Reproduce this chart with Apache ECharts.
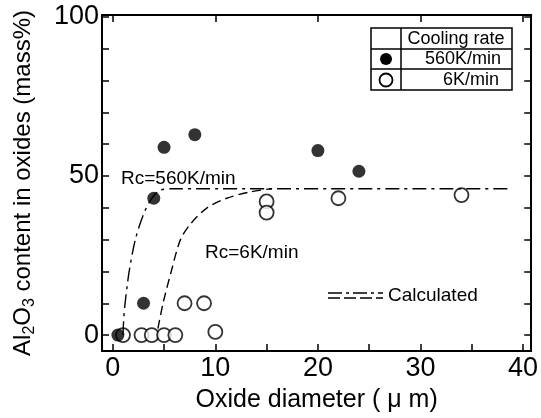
<!DOCTYPE html>
<html>
<head>
<meta charset="utf-8">
<script src="https://cdn.jsdelivr.net/npm/echarts@6/dist/echarts.min.js"></script>
<style>
html,body{margin:0;padding:0;background:#fff;}
#main{width:541px;height:418px;}
</style>
</head>
<body>
<div id="main"></div>
<script>
// measured points, oxide diameter (um) vs Al2O3 (mass%)
var fastX = [0.5, 3, 4, 5, 8, 20, 24];
var fastY = [0, 10, 43, 59, 63, 58, 51.5];
var slowX = [1, 2.8, 3.8, 5, 6.1, 10, 7, 8.9, 15, 15, 22, 34];
var slowY = [0, 0, 0, 0, 0, 1, 10, 10, 42, 38.5, 43, 44];

// calculated curves
var calcFastX = [1.0, 1.05, 1.2, 1.6, 2.2, 3.0, 3.8, 4.6, 5.8, 38.5];
var calcFastY = [0, 4, 10, 20, 30, 38, 43, 45.5, 46, 46];
var calcSlowX = [4.4, 4.9, 5.7, 6.6, 7.6, 9.2, 11.1, 13.4, 15.5];
var calcSlowY = [2, 10, 20, 30, 35, 40, 43, 45, 46];

var xTickLabels = [0, 10, 20, 30, 40];
var xTicks = [0, 5, 10, 15, 20, 25, 30, 35, 40];
var yTickLabels = [0, 50, 100];
var yTicks = [0, 10, 20, 30, 40, 50, 60, 70, 80, 90, 100];

var pairs = function (xs, ys) {
    var out = [];
    for (var i = 0; i < xs.length; i++) out.push([xs[i], ys[i]]);
    return out;
};

var font = 'Liberation Sans';
var myChart = echarts.init(document.getElementById('main'));

var axisX = function (pos, show) {
    return {
        type: 'value', position: pos, min: -1.05, max: 40.8,
        axisLine: {show: true, onZero: false, lineStyle: {color: '#000', width: 2}},
        axisTick: {show: true, inside: true, length: 7, lineStyle: {color: '#000', width: 1.5},
            customValues: show ? xTicks : xTickLabels},
        axisLabel: {show: show, customValues: xTickLabels, color: '#000', fontSize: 27,
            fontFamily: font, margin: 4},
        splitLine: {show: false}
    };
};
var axisY = function (pos, show) {
    return {
        type: 'value', position: pos, min: -5, max: 100.6,
        axisLine: {show: true, onZero: false, lineStyle: {color: '#000', width: 2}},
        axisTick: {show: true, inside: true, length: 7, lineStyle: {color: '#000', width: 1.5},
            customValues: yTicks},
        axisLabel: {show: show, customValues: yTickLabels, color: '#000', fontSize: 27,
            fontFamily: font, margin: 3},
        splitLine: {show: false}
    };
};

var xb = axisX('bottom', true);
xb.name = 'Oxide diameter ( \u03bc m)';
xb.nameLocation = 'middle';
xb.nameGap = 37;
xb.nameTextStyle = {color: '#000', fontSize: 25, fontFamily: font};

var yl = axisY('left', true);
yl.name = '{n|Al}{s|2}{n|O}{s|3}{n| content in oxides (mass%)}';
yl.nameLocation = 'middle';
yl.nameGap = 64;
yl.nameTextStyle = {
    color: '#000', fontFamily: font,
    rich: {
        n: {fontSize: 24, fontFamily: font, color: '#000', lineHeight: 30, verticalAlign: 'middle'},
        s: {fontSize: 16, fontFamily: font, color: '#000', lineHeight: 30, padding: [14, 0, 0, 0], verticalAlign: 'middle'}
    }
};

option = {
    animation: false,
    backgroundColor: '#fff',
    grid: {left: 100, right: 6, top: 15, bottom: 63, containLabel: false},
    xAxis: [xb, axisX('top', false)],
    yAxis: [yl, axisY('right', false)],
    series: [
        {
            type: 'line', data: pairs(calcFastX, calcFastY), symbol: 'none',
            smooth: 0.3,
            lineStyle: {color: '#000', width: 1.4, type: [14, 5, 3, 5]}
        },
        {
            type: 'line', data: pairs(calcSlowX, calcSlowY), symbol: 'none',
            smooth: 0.3,
            lineStyle: {color: '#000', width: 1.4, type: [9, 5]}
        },
        {
            type: 'scatter', name: '6K/min', data: pairs(slowX, slowY), symbol: 'circle', symbolSize: 14,
            itemStyle: {color: '#fff', borderColor: '#000', borderWidth: 1.8}
        },
        {
            type: 'scatter', name: '560K/min', data: pairs(fastX, fastY), symbol: 'circle', symbolSize: 13,
            itemStyle: {color: '#000'}
        }
    ],
    graphic: [
        // legend table
        {type: 'rect', shape: {x: 371, y: 28, width: 141, height: 62}, style: {fill: '#fff', stroke: '#000', lineWidth: 1.5}, z: 10},
        {type: 'line', shape: {x1: 371, y1: 49, x2: 512, y2: 49}, style: {stroke: '#000', lineWidth: 1.5}, z: 11},
        {type: 'line', shape: {x1: 371, y1: 69, x2: 512, y2: 69}, style: {stroke: '#000', lineWidth: 1.5}, z: 11},
        {type: 'line', shape: {x1: 401, y1: 28, x2: 401, y2: 90}, style: {stroke: '#000', lineWidth: 1.5}, z: 11},
        {type: 'circle', shape: {cx: 386, cy: 59, r: 6}, style: {fill: '#000'}, z: 11},
        {type: 'circle', shape: {cx: 386, cy: 80, r: 6.5}, style: {fill: '#fff', stroke: '#000', lineWidth: 1.8}, z: 11},
        {type: 'text', x: 456, y: 39, style: {text: 'Cooling rate', fill: '#000', font: '18px ' + font, textAlign: 'center', textVerticalAlign: 'middle'}, z: 12},
        {type: 'text', x: 463, y: 59, style: {text: '560K/min', fill: '#000', font: '18px ' + font, textAlign: 'center', textVerticalAlign: 'middle'}, z: 12},
        {type: 'text', x: 471, y: 80, style: {text: '6K/min', fill: '#000', font: '18px ' + font, textAlign: 'center', textVerticalAlign: 'middle'}, z: 12},
        // annotations
        {type: 'text', x: 121, y: 179, style: {text: 'Rc=560K/min', fill: '#000', font: '19px ' + font, textVerticalAlign: 'middle'}, z: 12},
        {type: 'text', x: 205, y: 253, style: {text: 'Rc=6K/min', fill: '#000', font: '19px ' + font, textVerticalAlign: 'middle'}, z: 12},
        // calculated key
        {type: 'line', shape: {x1: 328, y1: 293, x2: 383, y2: 293}, style: {stroke: '#000', lineWidth: 1.4, lineDash: [14, 4, 3, 4]}, z: 11},
        {type: 'line', shape: {x1: 328, y1: 298, x2: 383, y2: 298}, style: {stroke: '#000', lineWidth: 1.4, lineDash: [12, 4]}, z: 11},
        {type: 'text', x: 388, y: 296, style: {text: 'Calculated', fill: '#000', font: '19px ' + font, textVerticalAlign: 'middle'}, z: 12}
    ]
};
myChart.setOption(option);
</script>
</body>
</html>
